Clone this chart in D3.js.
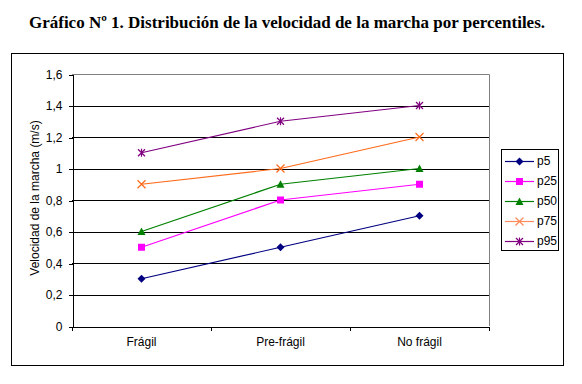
<!DOCTYPE html>
<html lang="es">
<head>
<meta charset="UTF-8">
<title>Gráfico Nº 1</title>
<style>
    body { margin: 0; background: #fff; }
    .axis text { font: 12px "Liberation Sans", Arial, sans-serif; fill: #000; }
    .axis path, .axis line { stroke: #000; shape-rendering: crispEdges; }
    .grid line { stroke: #000; shape-rendering: crispEdges; }
</style>
</head>
<body>
<svg width="582" height="384"></svg>
<script src="https://d3js.org/d3.v7.min.js"></script>
<script>
var categories = ["Frágil", "Pre-frágil", "No frágil"];
var seriesNames = ["p5", "p25", "p50", "p75", "p95"];
var p5  = [0.3, 0.5, 0.7];
var p25 = [0.5, 0.8, 0.9];
var p50 = [0.6, 0.9, 1.0];
var p75 = [0.9, 1.0, 1.2];
var p95 = [1.1, 1.3, 1.4];
var yTicks = [0, 0.2, 0.4, 0.6, 0.8, 1, 1.2, 1.4, 1.6];

var series = [
    {name: "p5",  values: p5,  color: "#000080", legendColor: "#000080", marker: "diamond"},
    {name: "p25", values: p25, color: "#ff00ff", legendColor: "#ff00ff", marker: "square"},
    {name: "p50", values: p50, color: "#008000", legendColor: "#008000", marker: "triangle"},
    {name: "p75", values: p75, color: "#ff6a1a", legendColor: "#ff8c5a", marker: "x"},
    {name: "p95", values: p95, color: "#800080", legendColor: "#800080", marker: "star"}
];

var svg = d3.select("svg");

// outer frame
svg.append("rect")
    .attr("x", 11.5).attr("y", 53.5)
    .attr("width", 552).attr("height", 312)
    .attr("fill", "none").attr("stroke", "#000").attr("stroke-width", 1);

// title
svg.append("text")
    .attr("x", 287).attr("y", 28)
    .attr("text-anchor", "middle")
    .style("font", "bold 17px 'Liberation Serif', 'Times New Roman', serif")
    .text("Gráfico Nº 1. Distribución de la velocidad de la marcha por percentiles.");

var plotLeft = 72, plotRight = 489, plotTop = 74, plotBottom = 326;

var x = d3.scaleBand().domain(categories).range([plotLeft, plotRight]);
var y = d3.scaleLinear().domain([0, 1.6]).range([plotBottom, plotTop]);

// plot border (grey) top & right
svg.append("path")
    .attr("d", "M" + plotLeft + "," + (plotTop + 0.5) + "H" + (plotRight + 0.5) + "V" + plotBottom)
    .attr("fill", "none").attr("stroke", "#808080");

// gridlines
svg.append("g").attr("class", "grid")
    .selectAll("line")
    .data(yTicks.filter(function(d){ return d > 0 && d < 1.6; }))
    .enter().append("line")
    .attr("x1", plotLeft).attr("x2", plotRight)
    .attr("y1", function(d){ return y(d) + 0.5; })
    .attr("y2", function(d){ return y(d) + 0.5; });

// y axis
svg.append("g")
    .attr("class", "axis")
    .attr("transform", "translate(" + (plotLeft + 0.5) + ",0.5)")
    .call(d3.axisLeft(y).tickValues(yTicks).tickSize(4).tickSizeOuter(0).tickPadding(6)
        .tickFormat(function(d){ return String(d).replace(".", ","); }));

// x axis
var xAxis = svg.append("g")
    .attr("class", "axis")
    .attr("transform", "translate(0," + (plotBottom + 0.5) + ")")
    .call(d3.axisBottom(x).tickSize(0).tickPadding(11).tickSizeOuter(0));
xAxis.selectAll(".tick line").remove();
xAxis.selectAll(".sep")
    .data(categories.concat([null]))
    .enter().append("line")
    .attr("class", "sep")
    .attr("x1", function(d, i){ return i < categories.length ? x(d) + 0.5 : plotRight + 0.5; })
    .attr("x2", function(d, i){ return i < categories.length ? x(d) + 0.5 : plotRight + 0.5; })
    .attr("y1", 0).attr("y2", 4);

// y title
svg.append("text")
    .attr("transform", "translate(39,198) rotate(-90)")
    .attr("text-anchor", "middle")
    .style("font", "12px 'Liberation Sans', Arial, sans-serif")
    .text("Velocidad de la marcha (m/s)");

function drawMarker(g, type, color) {
    if (type === "diamond") {
        g.append("path").attr("d", "M0,-4L4,0L0,4L-4,0Z").attr("fill", color);
    } else if (type === "square") {
        g.append("rect").attr("x", -3.5).attr("y", -3.5).attr("width", 7).attr("height", 7).attr("fill", color);
    } else if (type === "triangle") {
        g.append("path").attr("d", "M0,-4L4,3.5L-4,3.5Z").attr("fill", color);
    } else if (type === "x") {
        g.append("path").attr("d", "M-4,-4L4,4M-4,4L4,-4").attr("stroke", color).attr("stroke-width", 1.2);
    } else if (type === "star") {
        g.append("path").attr("d", "M-3.5,-3.5L3.5,3.5M-3.5,3.5L3.5,-3.5M0,-4V4").attr("stroke", color).attr("stroke-width", 1.2);
    }
}

var line = d3.line()
    .x(function(d, i){ return x(categories[i]) + x.bandwidth() / 2; })
    .y(function(d){ return y(d); });

series.forEach(function(s) {
    svg.append("path")
        .attr("d", line(s.values))
        .attr("fill", "none")
        .attr("stroke", s.color)
        .attr("stroke-width", 1.2);
    s.values.forEach(function(v, i) {
        var g = svg.append("g")
            .attr("transform", "translate(" + (x(categories[i]) + x.bandwidth() / 2) + "," + y(v) + ")");
        drawMarker(g, s.marker, s.color);
    });
});

// legend
svg.append("rect")
    .attr("x", 501.5).attr("y", 149.5)
    .attr("width", 57).attr("height", 101)
    .attr("fill", "#fff").attr("stroke", "#000");

var legend = svg.selectAll(".legend")
    .data(series)
    .enter().append("g")
    .attr("class", "legend")
    .attr("transform", function(d, i){ return "translate(0," + (161 + i * 20) + ")"; });

legend.append("line")
    .attr("x1", 505).attr("x2", 534)
    .attr("y1", 0.5).attr("y2", 0.5)
    .attr("stroke", function(d){ return d.legendColor; })
    .attr("stroke-width", 1.2);

legend.each(function(d) {
    var g = d3.select(this).append("g").attr("transform", "translate(519.5,0.5)");
    drawMarker(g, d.marker, d.legendColor);
});

legend.append("text")
    .attr("x", 537).attr("y", 0)
    .attr("dy", "0.35em")
    .style("font", "12px 'Liberation Sans', Arial, sans-serif")
    .text(function(d){ return d.name; });
</script>
</body>
</html>
